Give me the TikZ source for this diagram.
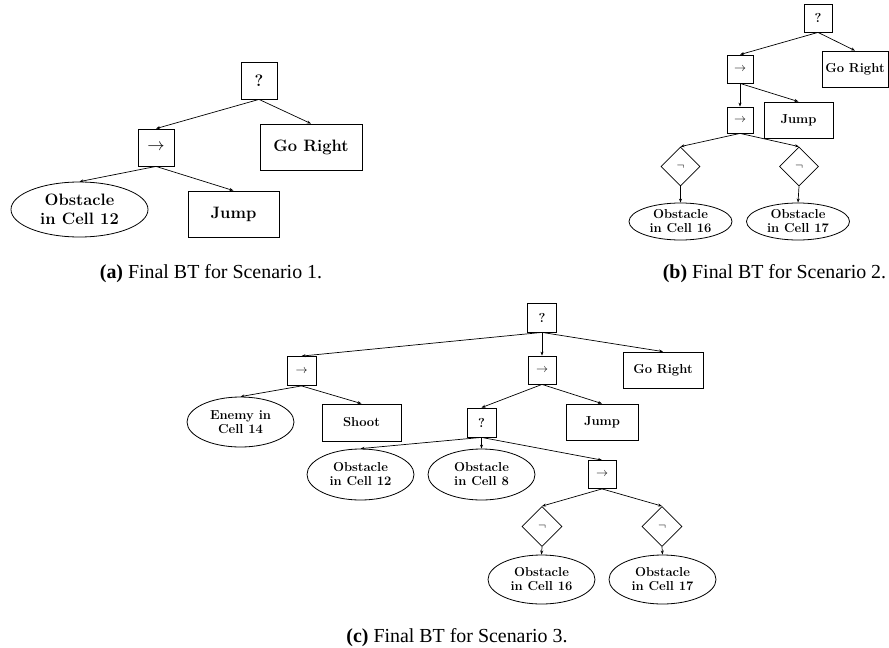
\documentclass[tikz,border=0pt]{standalone}
\usepackage{fontspec}
\newfontfamily\capfont{Liberation Serif}
\usepackage{tikz}
\usetikzlibrary{
	arrows.meta,
	shapes.geometric
}

\begin{document}
\begin{tikzpicture}[x=1pt,y=-1pt,>={Stealth[length=4pt,width=3pt]},
		every node/.style={inner sep=0pt},
		bigfont/.style={font=\fontsize{16.5}{18.5}\selectfont\bfseries},
		smallfont/.style={font=\fontsize{13}{14}\selectfont\bfseries},
		ctrl/.style={draw,rectangle,line width=0.8pt},
		act/.style={draw,rectangle,line width=0.8pt},
		cond/.style={draw,ellipse,line width=0.8pt,align=center},
		deco/.style={draw,diamond,line width=0.8pt,minimum width=39pt,minimum height=39pt},
		link/.style={->,line width=0.7pt},
		captext/.style={anchor=base,font=\capfont\fontsize{19.9}{22}\selectfont}
	]
	
	\useasboundingbox (0,0) rectangle (889,648);
	
	% (a) Scenario 1
	\begin{scope}[bigfont]
		\node[ctrl,minimum width=36pt,minimum height=37pt] (aSel) at (259,80.5) {?};
		\node[ctrl,minimum width=36pt,minimum height=37pt] (aSeq) at (156,147.5) {$\rightarrow$};
		\node[act,minimum width=102pt,minimum height=46pt] (aRight) at (311,147) {Go Right};
		\node[cond,minimum width=137pt,minimum height=55pt] (aObs) at (79.5,209.5) {Obstacle\\in Cell 12};
		\node[act,minimum width=91pt,minimum height=46pt] (aJump) at (233.5,214) {Jump};
	\end{scope}
	
	\draw[link] (aSel.south) -- (aSeq.north);
	\draw[link] (aSel.south) -- (aRight.north);
	\draw[link] (aSeq.south) -- (aObs.north);
	\draw[link] (aSeq.south) -- (aJump.north);
	
	\node[captext] (capA) at (211,278) {\textbf{(a)} Final BT for Scenario 1.};
	
	% (b) Scenario 2
	\begin{scope}[smallfont]
		\node[ctrl,minimum width=28pt,minimum height=28pt] (bSel) at (818,18) {?};
		\node[ctrl,minimum width=26pt,minimum height=28pt] (bSeq) at (740,69) {$\rightarrow$};
		\node[act,minimum width=66pt,minimum height=36pt] (bRight) at (855,69) {Go Right};
		\node[ctrl,minimum width=26pt,minimum height=26pt] (bSeqTwo) at (740,120) {$\rightarrow$};
		\node[act,minimum width=69pt,minimum height=36pt] (bJump) at (798.5,120) {Jump};
		\node[deco] (bNotA) at (680.5,166.5) {$\neg$};
		\node[deco] (bNotB) at (799,166.5) {$\neg$};
		\node[cond,minimum width=103pt,minimum height=37pt] (bObsA) at (680.5,221.5) {Obstacle\\in Cell 16};
		\node[cond,minimum width=103pt,minimum height=37pt] (bObsB) at (798,221.5) {Obstacle\\in Cell 17};
	\end{scope}
	
	\draw[link] (bSel.south) -- (bSeq.north);
	\draw[link] (bSel.south) -- (bRight.north);
	\draw[link] (bSeq.south) -- (bSeqTwo.north);
	\draw[link] (bSeq.south) -- (bJump.north);
	\draw[link] (bSeqTwo.south) -- (bNotA.north);
	\draw[link] (bSeqTwo.south) -- (bNotB.north);
	\draw[link] (bNotA.south) -- (bObsA.north);
	\draw[link] (bNotB.south) -- (bObsB.north);
	
	\node[captext] (capB) at (774.5,278) {\textbf{(b)} Final BT for Scenario 2.};
	
	% (c) Scenario 3
	\begin{scope}[smallfont]
		\node[ctrl,minimum width=29pt,minimum height=29pt] (cSel) at (542,317.5) {?};
		\node[ctrl,minimum width=29pt,minimum height=29pt] (cSeqL) at (301.5,371) {$\rightarrow$};
		\node[ctrl,minimum width=28pt,minimum height=28pt] (cSeqM) at (542,370) {$\rightarrow$};
		\node[act,minimum width=80pt,minimum height=36pt] (cRight) at (663,370) {Go Right};
		\node[cond,minimum width=107pt,minimum height=50pt] (cEnemy) at (240.5,422) {Enemy in\\Cell 14};
		\node[act,minimum width=79pt,minimum height=37pt] (cShoot) at (361.5,422.5) {Shoot};
		\node[ctrl,minimum width=29pt,minimum height=29pt] (cSelTwo) at (481.5,422.5) {?};
		\node[act,minimum width=72pt,minimum height=36pt] (cJump) at (602,422) {Jump};
		\node[cond,minimum width=107pt,minimum height=51pt] (cObsA) at (360.5,474.5) {Obstacle\\in Cell 12};
		\node[cond,minimum width=107pt,minimum height=51pt] (cObsB) at (481.5,474.5) {Obstacle\\in Cell 8};
		\node[ctrl,minimum width=28pt,minimum height=28pt] (cSeqR) at (602,474.5) {$\rightarrow$};
		\node[deco,minimum width=40pt,minimum height=40pt] (cNotA) at (542,526.5) {$\neg$};
		\node[deco,minimum width=40pt,minimum height=40pt] (cNotB) at (662,526.5) {$\neg$};
		\node[cond,minimum width=107pt,minimum height=49pt] (cObsC) at (541.5,579.5) {Obstacle\\in Cell 16};
		\node[cond,minimum width=107pt,minimum height=49pt] (cObsD) at (662.5,579.5) {Obstacle\\in Cell 17};
	\end{scope}
	
	\draw[link] (cSel.south) -- (cSeqL.north);
	\draw[link] (cSel.south) -- (cSeqM.north);
	\draw[link] (cSel.south) -- (cRight.north);
	\draw[link] (cSeqL.south) -- (cEnemy.north);
	\draw[link] (cSeqL.south) -- (cShoot.north);
	\draw[link] (cSeqM.south) -- (cSelTwo.north);
	\draw[link] (cSeqM.south) -- (cJump.north);
	\draw[link] (cSelTwo.south) -- (cObsA.north);
	\draw[link] (cSelTwo.south) -- (cObsB.north);
	\draw[link] (cSelTwo.south) -- (cSeqR.north);
	\draw[link] (cSeqR.south) -- (cNotA.north);
	\draw[link] (cSeqR.south) -- (cNotB.north);
	\draw[link] (cNotA.south) -- (cObsC.north);
	\draw[link] (cNotB.south) -- (cObsD.north);
	
	\node[captext] (capC) at (457,642) {\textbf{(c)} Final BT for Scenario 3.};
	
\end{tikzpicture}
\end{document}
